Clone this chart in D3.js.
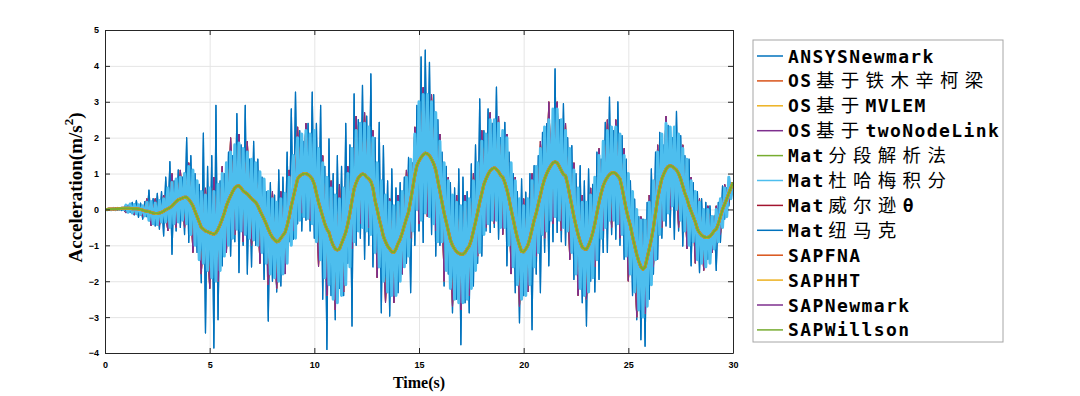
<!DOCTYPE html>
<html>
<head>
<meta charset="utf-8">
<script src="https://cdn.jsdelivr.net/npm/d3@7"></script>
<style>
  body { margin: 0; background: #fff; }
  svg { display: block; }
</style>
</head>
<body>
<div id="chart"></div>
<script>
// sample step of all series (s)
var dt = 0.1;

// ANSYS / Mat纽马克 - the full high frequency response
var darkSeries = [
  0, 0.02, -0.01, 0.03, -0.02, 0.04, -0.02, 0.05, -0.03, 0.05,
  -0.05, 0.12, -0.08, 0.2, -0.15, 0.25, -0.22, 0.18, -0.27, 0.22,
  -0.2, 0.54, -0.35, 0.3, -0.46, 0.45, -0.55, 0.5, -0.74, 0.9,
  -0.4, 1.33, -1.25, 0.8, -0.6, 1.1, -0.5, 0.9, -0.7, 2.0,
  -0.92, 1.5, -0.8, 1.0, -1.2, 0.7, -2.04, 2.13, -3.44, 1.2,
  -2.2, 1.5, -3.86, 2.9, -3.07, 0.8, -1.57, 1.0, -1.2, 1.6,
  -1.3, 1.5, -0.9, 2.67, -1.76, 1.8, -1.0, 2.9, -1.8, 1.4,
  -1.6, 1.9, -1.0, 1.4, -1.5, 0.9, -1.95, 0.5, -3.11, 0.75,
  -2.0, 0.4, -2.3, 1.1, -2.13, 0.9, -1.5, 1.6, -0.9, 2.8,
  -0.83, 3.27, -0.4, 2.2, -0.6, 1.9, -0.3, 2.4, -0.6, 3.27,
  -0.8, 2.4, -1.2, 2.9, -2.5, 1.2, -3.9, 1.97, -2.4, 1.0,
  -3.07, 1.5, -2.2, 1.2, -2.4, 2.4, -1.5, 1.8, -3.25, 3.22,
  -1.0, 2.5, -0.8, 3.46, -1.39, 2.6, -1.0, 3.78, -1.6, 2.0,
  -1.5, 2.43, -2.88, 1.78, -2.2, 0.8, -2.97, 1.13, -2.0, 0.6,
  -2.32, 0.75, -1.8, 0.9, -1.5, 1.45, -2.32, 1.3, -1.0, 2.9,
  -0.6, 4.25, -0.92, 4.44, 0.2, 4.1, -0.7, 3.2, -1.3, 2.5,
  -1.0, 1.6, -2.13, 1.2, -1.8, 0.75, -2.88, 0.6, -2.5, 1.13,
  -3.77, 0.9, -2.6, 0.5, -2.88, 1.27, -2.13, 1.8, -1.5, 3.08,
  -1.3, 2.2, -0.6, 2.8, -0.64, 2.4, -0.5, 3.41, -0.83, 2.0,
  -0.6, 2.43, -1.57, 1.6, -1.2, 1.0, -2.32, 0.5, -3.16, 0.85,
  -2.4, 0.48, -2.0, 1.0, -3.35, 1.22, -1.8, 1.5, -2.32, 2.15,
  -1.2, 2.39, -1.57, 1.8, -0.9, 3.92, -0.64, 2.5, -0.9, 2.95,
  -1.0, 2.0, -1.2, 1.78, -1.95, 1.0, -1.6, 1.22, -2.6, 0.8,
  -3.25, 1.13, -2.0, 0.7, -2.3, 1.6, -1.95, 1.4, -1.2, 2.43,
  -1.2, 3.13, -0.7, 2.2, -0.83, 3.0, -1.0, 2.06, -1.39, 1.4,
  -1.95, 0.8, -2.4, 0.29, -3.07, -0.2, -3.63, -0.27, -3.81, 0.2,
  -2.5, 1.13, -1.8, 1.6, -1.39, 2.15, -0.8, 1.8, -0.46, 2.34,
  -0.5, 2.0, -0.83, 2.73, -0.6, 2.06, -1.02, 1.5, -0.9, 1.4,
  -1.57, 0.75, -1.3, 0.5, -1.76, 0.3, -1.5, 0.2, -1.39, 0.1,
  -1.2, -0.18, -1.7, 0.2, -0.92, 0.66, -0.27, 0.6, 0.1, 0.75,
  0.7
];

// Mat杜哈梅积分 - light blue band
var duhamelSeries = [
  0, -0.01, 0.02, -0.01, 0.03, -0.01, 0.03, 0.0, 0.04, 0.0,
  0.12, -0.08, 0.15, -0.1, 0.14, -0.12, 0.13, -0.14, 0.1, -0.18,
  0.2, -0.3, 0.22, -0.4, 0.18, -0.42, 0.25, -0.35, 0.3, -0.35,
  0.6, -0.5, 0.75, -0.4, 0.85, -0.35, 0.9, -0.3, 1.0, -0.4,
  1.2, -0.7, 1.1, -1.0, 0.8, -1.4, 0.5, -1.5, 0.4, -1.7,
  0.6, -1.9, 0.5, -2.0, 0.7, -1.7, 1.0, -1.3, 1.3, -1.0,
  1.6, -0.8, 1.8, -0.55, 1.85, -0.6, 1.7, -0.7, 1.6, -0.8,
  1.4, -0.85, 1.3, -1.0, 1.05, -1.2, 0.85, -1.5, 0.5, -1.8,
  0.3, -1.9, 0.2, -2.0, 0.3, -1.8, 0.45, -1.5, 0.9, -1.0,
  1.5, -0.8, 2.0, -0.3, 2.1, -0.2, 2.2, -0.25, 2.1, -0.4,
  2.2, -0.9, 1.7, -1.4, 1.3, -1.9, 0.9, -2.1, 0.6, -2.5,
  0.4, -2.6, 0.3, -2.4, 0.6, -2.1, 1.0, -1.6, 1.7, -0.9,
  2.2, -0.6, 2.4, -0.5, 2.4, -0.6, 2.3, -0.7, 2.0, -1.2,
  1.3, -1.6, 0.8, -2.0, 0.4, -2.3, 0.2, -2.4, 0.1, -2.4,
  0.2, -2.0, 0.5, -1.6, 0.9, -1.3, 1.4, -0.6, 2.1, 0.0,
  3.0, -0.3, 3.2, -0.1, 3.2, -0.2, 3.0, -0.4, 2.7, -0.9,
  1.9, -0.9, 1.3, -1.7, 0.8, -2.2, 0.4, -2.5, 0.2, -2.6,
  0.1, -2.6, 0.2, -2.5, 0.3, -2.2, 0.8, -1.7, 1.3, -1.2,
  1.9, -0.7, 2.1, -0.4, 2.5, -0.3, 2.5, -0.3, 2.4, -0.5,
  2.2, -0.5, 2.0, -1.0, 1.3, -1.6, 0.8, -2.1, 0.3, -2.5,
  0.1, -2.4, 0.3, -2.1, 0.8, -1.6, 1.2, -1.2, 1.7, -0.7,
  2.3, -0.6, 2.5, -0.3, 2.8, -0.2, 2.8, -0.3, 2.5, -0.5,
  2.2, -0.6, 1.7, -1.2, 1.1, -1.8, 0.6, -2.2, 0.2, -2.4,
  0.2, -2.3, 0.4, -1.9, 0.9, -1.4, 1.5, -0.8, 1.9, -0.5,
  2.2, -0.3, 2.3, -0.3, 2.3, -0.4, 2.1, -0.7, 1.5, -1.3,
  1.0, -1.8, 0.5, -2.3, 0.0, -2.8, -0.3, -3.0, -0.3, -2.7,
  0.2, -2.1, 0.8, -1.4, 1.6, -0.7, 2.1, -0.3, 2.4, -0.1,
  2.3, 0.1, 2.3, 0.0, 2.1, -0.3, 1.7, -0.6, 1.4, -1.0,
  0.8, -0.9, 0.5, -1.4, 0.2, -1.5, 0.0, -1.6, 0.0, -1.5,
  -0.2, -1.1, 0.0, -0.9, 0.3, -0.5, 0.6, -0.2, 0.9, 0.3,
  0.75
];

// OpenSees / SAP results, sampled every 0.2 s
var dtCoarse = 0.2;
var sapSeries = [
  0, 0.01, 0.03, 0.0, 0.04,
  -0.1, 0.16, -0.15, 0.15, -0.2,
  0.3, -0.45, 0.3, -0.45, 0.4,
  -0.6, 1.0, -0.5, 1.1, -0.5,
  1.3, -1.2, 0.7, -1.8, 0.6,
  -2.2, 0.9, -2.0, 1.2, -1.2,
  2.0, -0.7, 2.1, -0.9, 1.9,
  -1.0, 1.3, -1.5, 0.7, -2.1,
  0.5, -2.2, 0.5, -1.8, 1.1,
  -0.6, 2.3, -0.1, 2.4, -0.3,
  2.0, -1.6, 1.5, -2.4, 0.8,
  -2.8, 0.7, -2.3, 1.2, -1.1,
  2.6, -0.4, 2.7, -0.5, 2.2,
  -1.9, 0.6, -2.6, 0.3, -2.6,
  0.4, -1.8, 1.1, -0.8, 2.3,
  -0.4, 3.4, -0.2, 3.2, -0.6,
  2.1, -2.0, 0.9, -2.7, 0.4,
  -2.8, 0.4, -2.4, 1.0, -1.3,
  2.2, -0.5, 2.7, -0.4, 2.6,
  -0.7, 2.1, -1.8, 0.9, -2.7,
  0.3, -2.3, 1.0, -1.3, 1.9,
  -0.8, 3.0, -0.4, 3.0, -0.6,
  2.4, -1.4, 1.3, -2.4, 0.4,
  -2.5, 0.6, -1.6, 1.7, -0.6,
  2.5, -0.5, 2.5, -0.8, 1.7,
  -2.0, 0.2, -3.0, -0.2, -2.9,
  0.4, -1.6, 1.8, -0.5, 2.6,
  0.0, 2.3, -0.5, 1.8, -1.1,
  0.9, -1.5, 0.3, -1.7, 0.1,
  -1.2, 0.1, -0.7, 0.7, 0.2,
  0.75
];

// Wilson-θ / piecewise results - smooth low frequency curve
var smoothSeries = [
  0, 0.0, 0.01, 0.01, 0.01, 0.01, 0.02, 0.02, 0.03, 0.03,
  0.03, 0.03, 0.03, 0.02, 0.02, 0.02, 0.01, 0.0, -0.02, -0.04,
  -0.05, -0.06, -0.08, -0.1, -0.11, -0.11, -0.1, -0.08, -0.05, -0.01,
  0.02, 0.05, 0.1, 0.16, 0.22, 0.27, 0.29, 0.32, 0.34, 0.34,
  0.28, 0.2, 0.1, -0.05, -0.2, -0.35, -0.5, -0.55, -0.6, -0.62,
  -0.65, -0.67, -0.69, -0.65, -0.55, -0.42, -0.27, -0.1, 0.1, 0.25,
  0.38, 0.5, 0.6, 0.65, 0.66, 0.6, 0.52, 0.47, 0.43, 0.37,
  0.3, 0.25, 0.2, 0.1, -0.03, -0.15, -0.27, -0.4, -0.55, -0.68,
  -0.78, -0.85, -0.9, -0.88, -0.8, -0.72, -0.64, -0.45, -0.2, 0.1,
  0.35, 0.6, 0.85, 0.93, 0.97, 1.0, 1.0, 0.97, 0.92, 0.85,
  0.7, 0.45, 0.2, 0.0, -0.2, -0.4, -0.55, -0.64, -0.85, -1.0,
  -1.1, -1.13, -1.1, -0.95, -0.8, -0.64, -0.4, -0.1, 0.25, 0.57,
  0.75, 0.88, 0.95, 0.99, 0.97, 0.9, 0.85, 0.78, 0.6, 0.25,
  0.0, -0.27, -0.5, -0.75, -0.9, -1.02, -1.1, -1.18, -1.2, -1.1,
  -0.95, -0.83, -0.65, -0.45, -0.25, -0.08, 0.25, 0.6, 0.95, 1.22,
  1.35, 1.45, 1.52, 1.57, 1.55, 1.5, 1.4, 1.28, 1.1, 0.8,
  0.5, 0.2, -0.1, -0.35, -0.6, -0.85, -1.0, -1.1, -1.18, -1.22,
  -1.25, -1.25, -1.2, -1.1, -1.02, -0.85, -0.6, -0.35, -0.08, 0.2,
  0.45, 0.7, 0.85, 0.98, 1.08, 1.13, 1.16, 1.12, 1.05, 0.95,
  0.9, 0.75, 0.55, 0.3, 0.0, -0.27, -0.55, -0.8, -1.0, -1.17,
  -1.18, -1.1, -1.0, -0.8, -0.55, -0.3, -0.1, 0.15, 0.4, 0.65,
  0.85, 1.0, 1.12, 1.22, 1.3, 1.33, 1.3, 1.2, 1.08, 0.98,
  0.94, 0.7, 0.4, 0.1, -0.2, -0.46, -0.7, -0.9, -1.05, -1.1,
  -1.11, -1.0, -0.85, -0.65, -0.4, -0.1, 0.2, 0.45, 0.66, 0.8,
  0.9, 0.97, 1.02, 1.03, 1.0, 0.93, 0.85, 0.6, 0.3, 0.0,
  -0.25, -0.46, -0.75, -1.0, -1.25, -1.45, -1.6, -1.67, -1.6, -1.35,
  -1.1, -0.83, -0.5, -0.1, 0.3, 0.6, 0.85, 1.0, 1.12, 1.2,
  1.22, 1.2, 1.15, 1.1, 1.0, 0.85, 0.65, 0.45, 0.3, 0.1,
  -0.05, -0.2, -0.35, -0.55, -0.65, -0.72, -0.76, -0.78, -0.78, -0.75,
  -0.68, -0.6, -0.55, -0.4, -0.2, 0.0, 0.15, 0.29, 0.45, 0.6,
  0.75
];

// legend order, names and colours
var seriesNames = ["ANSYSNewmark", "OS基于铁木辛柯梁", "OS基于MVLEM", "OS基于twoNodeLink",
  "Mat分段解析法", "Mat杜哈梅积分", "Mat威尔逊θ", "Mat纽马克",
  "SAPFNA", "SAPHHT", "SAPNewmark", "SAPWillson"];
var seriesColors = ["#0072BD", "#D95319", "#EDB120", "#7E2F8E", "#77AC30", "#4DBEEE",
  "#A2142F", "#0072BD", "#D95319", "#EDB120", "#7E2F8E", "#77AC30"];

var xTicks = [0, 5, 10, 15, 20, 25, 30];
var yTicks = [-4, -3, -2, -1, 0, 1, 2, 3, 4, 5];

// which data each legend entry uses (data, step, width), and paint order
var seriesData = {
  "ANSYSNewmark": [darkSeries, dt, 1.2],
  "Mat纽马克": [darkSeries, dt, 1.2],
  "OS基于铁木辛柯梁": [sapSeries, dtCoarse, 1],
  "OS基于MVLEM": [sapSeries, dtCoarse, 1],
  "SAPFNA": [sapSeries, dtCoarse, 1],
  "OS基于twoNodeLink": [sapSeries, dtCoarse, 1],
  "SAPNewmark": [sapSeries, dtCoarse, 1],
  "Mat杜哈梅积分": [duhamelSeries, dt, 3],
  "Mat威尔逊θ": [smoothSeries, dt, 3],
  "SAPHHT": [smoothSeries, dt, 3],
  "Mat分段解析法": [smoothSeries, dt, 1.8],
  "SAPWillson": [smoothSeries, dt, 1.8]
};
var drawOrder = ["ANSYSNewmark", "Mat纽马克", "OS基于铁木辛柯梁", "OS基于MVLEM", "SAPFNA",
  "OS基于twoNodeLink", "SAPNewmark", "Mat杜哈梅积分", "Mat威尔逊θ", "SAPHHT",
  "Mat分段解析法", "SAPWillson"];

var W = 1080, H = 396;
var margin = {top: 30, left: 105, right: 347, bottom: 43};
var width = W - margin.left - margin.right,
    height = H - margin.top - margin.bottom;

var svg = d3.select("#chart").append("svg")
    .attr("width", W)
    .attr("height", H);

var g = svg.append("g")
    .attr("transform", "translate(" + margin.left + "," + margin.top + ")");

var x = d3.scaleLinear().domain([0, 30]).range([0, width]);
var y = d3.scaleLinear().domain([-4, 5]).range([height, 0]);

// grid
var grid = g.append("g");
grid.append("g")
    .attr("transform", "translate(0," + height + ")")
    .call(d3.axisBottom(x).tickValues(xTicks).tickSize(-height).tickFormat(""));
grid.append("g")
    .call(d3.axisLeft(y).tickValues(yTicks).tickSize(-width).tickFormat(""));
grid.selectAll("line").attr("stroke", "#e5e5e5").attr("stroke-width", 1);
grid.selectAll(".domain").remove();

// data lines, clipped to the axes box
g.append("clipPath").attr("id", "clip")
  .append("rect").attr("width", width).attr("height", height);
var plot = g.append("g").attr("clip-path", "url(#clip)");

drawOrder.forEach(function(name) {
    var s = seriesData[name];
    var step = s[1];
    var line = d3.line()
        .x(function(d, i) { return x(i * step); })
        .y(function(d) { return y(d); });
    plot.append("path")
        .datum(s[0])
        .attr("fill", "none")
        .attr("stroke", seriesColors[seriesNames.indexOf(name)])
        .attr("stroke-width", s[2])
        .attr("stroke-linejoin", "round")
        .attr("d", line);
});

// axes with inward ticks, box all round
var axisColor = "#262626";
var axes = g.append("g");
axes.append("g")
    .attr("transform", "translate(0," + height + ")")
    .call(d3.axisBottom(x).tickValues(xTicks).tickSizeInner(-5).tickSizeOuter(0).tickPadding(9));
axes.append("g")
    .call(d3.axisLeft(y).tickValues(yTicks).tickSizeInner(-5).tickSizeOuter(0).tickPadding(6));
axes.append("g")
    .call(d3.axisTop(x).tickValues(xTicks).tickSizeInner(-5).tickSizeOuter(0).tickFormat(""));
axes.append("g")
    .attr("transform", "translate(" + width + ",0)")
    .call(d3.axisRight(y).tickValues(yTicks).tickSizeInner(-5).tickSizeOuter(0).tickFormat(""));

axes.selectAll(".domain, .tick line").attr("stroke", axisColor);
axes.selectAll(".tick text")
    .style("font", "bold 9px 'Liberation Sans', Arial, sans-serif")
    .attr("fill", "#000");

// axis titles
svg.append("text")
    .attr("x", margin.left + width / 2)
    .attr("y", 388)
    .attr("text-anchor", "middle")
    .style("font", "bold 16px 'Liberation Serif', 'Times New Roman', serif")
    .text("Time(s)");

var yl = svg.append("text")
    .attr("transform", "translate(82," + (margin.top + height / 2 - 4) + ") rotate(-90)")
    .attr("text-anchor", "middle")
    .style("font", "bold 19px 'Liberation Serif', 'Times New Roman', serif");
yl.append("tspan").text("Acceleration(m/s");
yl.append("tspan").attr("dy", -9).style("font-size", "13px").text("2");
yl.append("tspan").attr("dy", 9).text(")");

// legend
var legend = svg.append("g").attr("transform", "translate(753,40)");
legend.append("rect")
    .attr("width", 250)
    .attr("height", 302)
    .attr("fill", "#fff")
    .attr("stroke", "#a6a6a6")
    .attr("stroke-width", 1);

var rowH = 24.9;
seriesNames.forEach(function(name, i) {
    var cy = 16 + i * rowH;
    legend.append("line")
        .attr("x1", 4).attr("x2", 30)
        .attr("y1", cy).attr("y2", cy)
        .attr("stroke", seriesColors[i])
        .attr("stroke-width", 1.5);
    var t = legend.append("text")
        .attr("x", 35)
        .attr("y", cy + 6.5);
    var runs = name.match(/[\u4e00-\u9fff]+|[^\u4e00-\u9fff]+/g);
    runs.forEach(function(r, k) {
        var cjk = /[\u4e00-\u9fff]/.test(r);
        t.append("tspan")
            .attr("dx", cjk && k > 0 ? 3.5 : 0)
            .style("font-family", cjk ? "'Noto Sans CJK SC', sans-serif" : "'DejaVu Sans Mono', monospace")
            .style("font-size", cjk ? "18.5px" : "18px")
            .style("font-weight", cjk ? "normal" : "bold")
            .style("letter-spacing", cjk ? "6.3px" : "1.4px")
            .attr("fill", "#000")
            .text(r);
    });
});
</script>
</body>
</html>
